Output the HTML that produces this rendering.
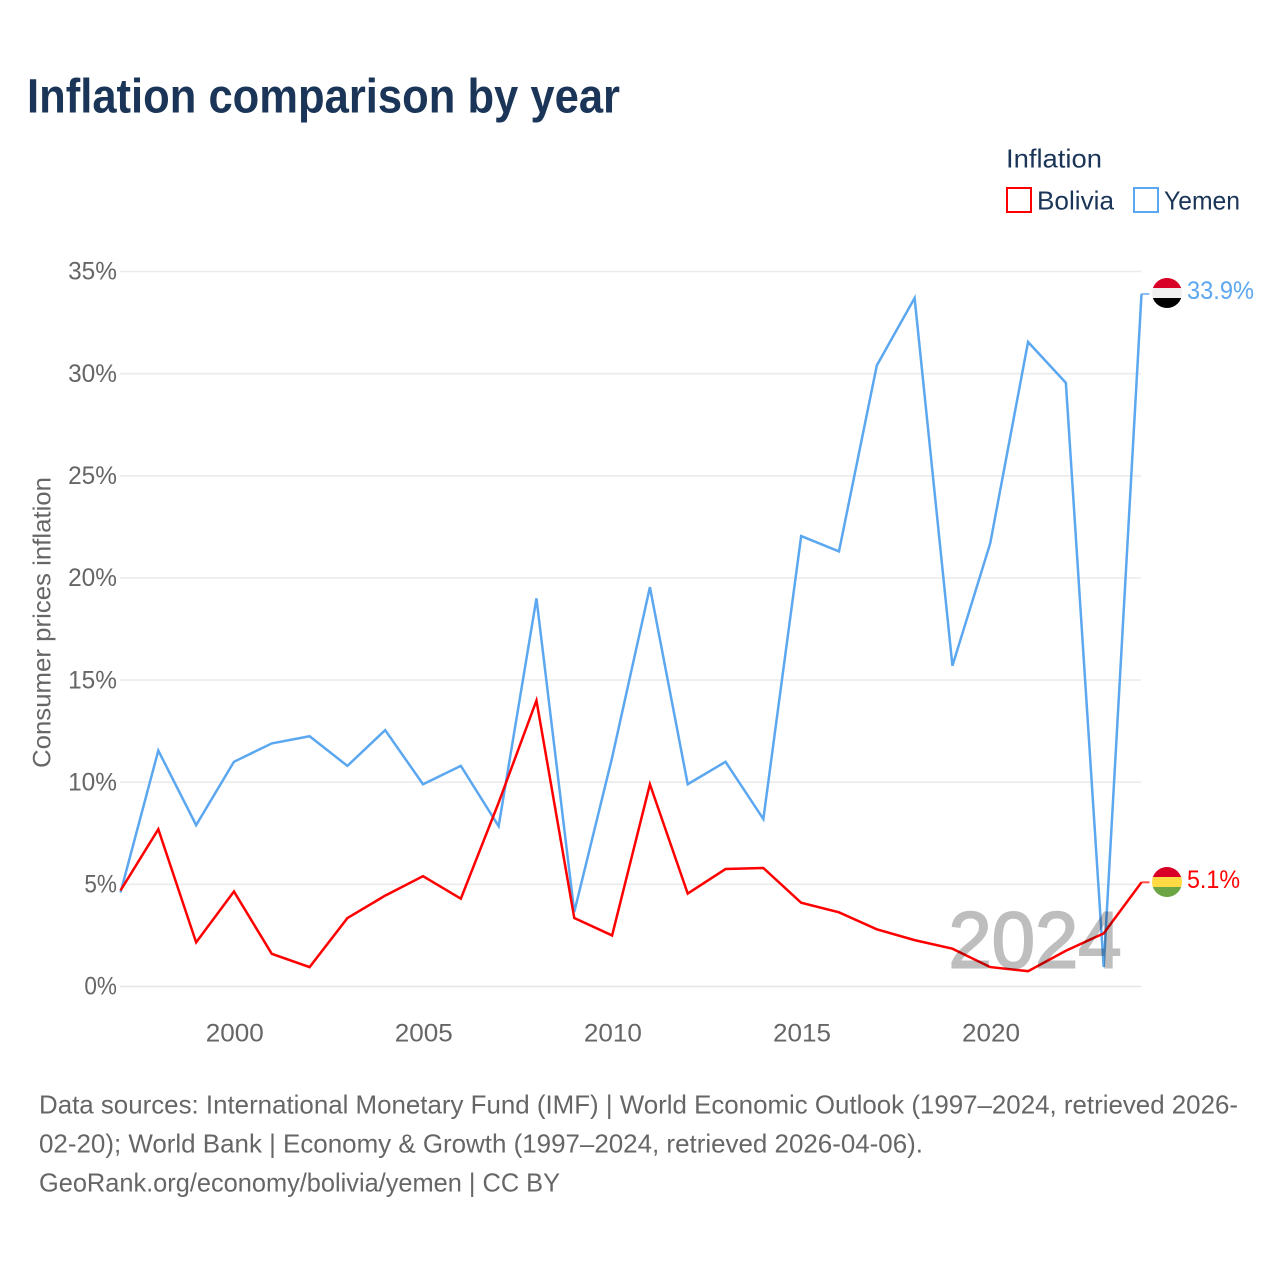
<!DOCTYPE html>
<html lang="en">
<head>
<meta charset="utf-8">
<title>Inflation comparison by year</title>
<style>
html,body{margin:0;padding:0;background:#fff;width:1280px;height:1280px;overflow:hidden}
svg{display:block}
text{font-family:"Liberation Sans",sans-serif}
</style>
</head>
<body>
<svg id="chart" xmlns="http://www.w3.org/2000/svg" width="1280" height="1280" viewBox="0 0 1280 1280">
  <defs>
    <clipPath id="yemen-clip"><circle cx="1167" cy="293" r="15"/></clipPath>
    <clipPath id="bolivia-clip"><circle cx="1167" cy="882" r="15"/></clipPath>
  </defs>
  <rect width="1280" height="1280" fill="#fff"/>
  <text x="27" y="112.5" font-size="48" font-weight="700" fill="#1a3557" textLength="593" lengthAdjust="spacingAndGlyphs">Inflation comparison by year</text>

  <g>
    <text x="1006" y="167.5" font-size="26" fill="#1a3557" textLength="96" lengthAdjust="spacingAndGlyphs">Inflation</text>
    <g>
      <rect x="1007" y="188" width="24" height="24" fill="#fff" stroke="#ff0000" stroke-width="2"/>
      <text x="1037" y="209.5" font-size="26" fill="#1a3557" textLength="77" lengthAdjust="spacingAndGlyphs">Bolivia</text>
    </g>
    <g>
      <rect x="1134" y="188" width="24" height="24" fill="#fff" stroke="#5ba7f0" stroke-width="2"/>
      <text x="1164" y="209.5" font-size="26" fill="#1a3557" textLength="76" lengthAdjust="spacingAndGlyphs">Yemen</text>
    </g>
  </g>

  <g id="grid"></g>
  <g id="y-axis"></g>
  <g id="x-axis"></g>
  <text transform="translate(50.5 768) rotate(-90)" x="0" y="0" font-size="25" fill="#666" textLength="291" lengthAdjust="spacingAndGlyphs">Consumer prices inflation</text>

  <g id="series"></g>

  <text x="948.5" y="967.5" font-size="80" fill="#000" stroke="#000" stroke-width="2" opacity="0.25" textLength="173" lengthAdjust="spacingAndGlyphs">2024</text>

  <g clip-path="url(#yemen-clip)">
    <rect x="1152" y="278" width="30" height="10" fill="#d80027"/>
    <rect x="1152" y="288" width="30" height="10" fill="#f0f0f0"/>
    <rect x="1152" y="298" width="30" height="10" fill="#000"/>
  </g>
  <g clip-path="url(#bolivia-clip)">
    <rect x="1152" y="867" width="30" height="10" fill="#d80027"/>
    <rect x="1152" y="877" width="30" height="10" fill="#ffda44"/>
    <rect x="1152" y="887" width="30" height="10" fill="#6da544"/>
  </g>
  <text x="1187" y="299" font-size="25" fill="#5ba7f0" textLength="67" lengthAdjust="spacingAndGlyphs">33.9%</text>
  <text x="1187" y="888" font-size="25" fill="#ff0000" textLength="53" lengthAdjust="spacingAndGlyphs">5.1%</text>

  <g font-size="26" fill="#666">
    <text x="39" y="1113.5" textLength="1199" lengthAdjust="spacingAndGlyphs">Data sources: International Monetary Fund (IMF) | World Economic Outlook (1997–2024, retrieved 2026-</text>
    <text x="39" y="1152.5" textLength="884" lengthAdjust="spacingAndGlyphs">02-20); World Bank | Economy &amp; Growth (1997–2024, retrieved 2026-04-06).</text>
    <text x="39" y="1191.5" textLength="521" lengthAdjust="spacingAndGlyphs">GeoRank.org/economy/bolivia/yemen | CC BY</text>
  </g>
</svg>
<script>
const years = [1997,1998,1999,2000,2001,2002,2003,2004,2005,2006,2007,2008,2009,2010,2011,2012,2013,2014,2015,2016,2017,2018,2019,2020,2021,2022,2023,2024];
const yemenValues = [4.6,11.55,7.9,11.0,11.9,12.25,10.8,12.55,9.9,10.8,7.85,19.0,3.65,11.2,19.55,9.9,11.0,8.2,22.05,21.3,30.4,33.7,15.7,21.7,31.55,29.55,0.95,33.9];
const boliviaValues = [4.7,7.7,2.16,4.65,1.6,0.95,3.35,4.45,5.4,4.3,9.0,14.0,3.35,2.5,9.9,4.55,5.75,5.8,4.1,3.63,2.8,2.27,1.85,0.95,0.75,1.75,2.6,5.1];
const yTicks = [0,5,10,15,20,25,30,35];
const xTicks = [2000,2005,2010,2015,2020];

const NS = 'http://www.w3.org/2000/svg';
const xScale = function (year) { return 120.5 + (year - 1997) * (1021 / 27); };
const yScale = function (value) { return 986.5 - value * (715 / 35); };

function make(tag, parent) {
  const el = document.createElementNS(NS, tag);
  parent.appendChild(el);
  return el;
}

const gridGroup = document.getElementById('grid');
const yGroup = document.getElementById('y-axis');
yTicks.forEach(function (t) {
  const line = make('line', gridGroup);
  
  
  line.setAttribute('x1', 120);
  line.setAttribute('x2', 1141);
  line.setAttribute('y1', yScale(t));
  line.setAttribute('y2', yScale(t));
  line.setAttribute('stroke', t === 0 ? '#e6e6e6' : '#ebebeb');
  line.setAttribute('stroke-width', 1.6);

  const label = make('text', yGroup);
  
  
  const s = t + '%';
  label.textContent = s;
  label.setAttribute('x', 117);
  label.setAttribute('y', yScale(t) + 8.2);
  label.setAttribute('text-anchor', 'end');
  label.setAttribute('font-size', 25);
  label.setAttribute('fill', '#666');
  label.setAttribute('textLength', s.length * 16.3);
  label.setAttribute('lengthAdjust', 'spacingAndGlyphs');
});

const xGroup = document.getElementById('x-axis');
xTicks.forEach(function (t) {
  const label = make('text', xGroup);
  
  
  label.textContent = String(t);
  label.setAttribute('x', xScale(t) + 0.8);
  label.setAttribute('y', 1041.5);
  label.setAttribute('text-anchor', 'middle');
  label.setAttribute('font-size', 25);
  label.setAttribute('fill', '#666');
  label.setAttribute('textLength', 58);
  label.setAttribute('lengthAdjust', 'spacingAndGlyphs');
});

const seriesGroup = document.getElementById('series');
function pathFor(values) {
  return values.map(function (v, i) {
    return (i ? 'L' : 'M') + xScale(years[i]).toFixed(2) + ' ' + yScale(v).toFixed(2);
  }).join(' ');
}
function lastPoint(values) {
  return [xScale(years[years.length - 1]), yScale(values[values.length - 1])];
}

const yemenLine = make('path', seriesGroup);


yemenLine.setAttribute('d', pathFor(yemenValues));
yemenLine.setAttribute('fill', 'none');
yemenLine.setAttribute('stroke', '#5ba7f0');
yemenLine.setAttribute('stroke-width', 2.5);
yemenLine.setAttribute('stroke-linejoin', 'miter');

const boliviaLine = make('path', seriesGroup);


boliviaLine.setAttribute('d', pathFor(boliviaValues));
boliviaLine.setAttribute('fill', 'none');
boliviaLine.setAttribute('stroke', '#ff0000');
boliviaLine.setAttribute('stroke-width', 2.5);
boliviaLine.setAttribute('stroke-linejoin', 'miter');

const yemenEnd = lastPoint(yemenValues);
const yemenConnector = make('line', seriesGroup);


yemenConnector.setAttribute('x1', yemenEnd[0]);
yemenConnector.setAttribute('x2', yemenEnd[0] + 8);
yemenConnector.setAttribute('y1', yemenEnd[1]);
yemenConnector.setAttribute('y2', yemenEnd[1]);
yemenConnector.setAttribute('stroke', '#5ba7f0');
yemenConnector.setAttribute('stroke-opacity', 0.7);
yemenConnector.setAttribute('stroke-width', 2);

const boliviaEnd = lastPoint(boliviaValues);
const boliviaConnector = make('line', seriesGroup);


boliviaConnector.setAttribute('x1', boliviaEnd[0]);
boliviaConnector.setAttribute('x2', boliviaEnd[0] + 8);
boliviaConnector.setAttribute('y1', boliviaEnd[1]);
boliviaConnector.setAttribute('y2', boliviaEnd[1]);
boliviaConnector.setAttribute('stroke', '#ff0000');
boliviaConnector.setAttribute('stroke-opacity', 0.7);
boliviaConnector.setAttribute('stroke-width', 2);
</script>
</body>
</html>
